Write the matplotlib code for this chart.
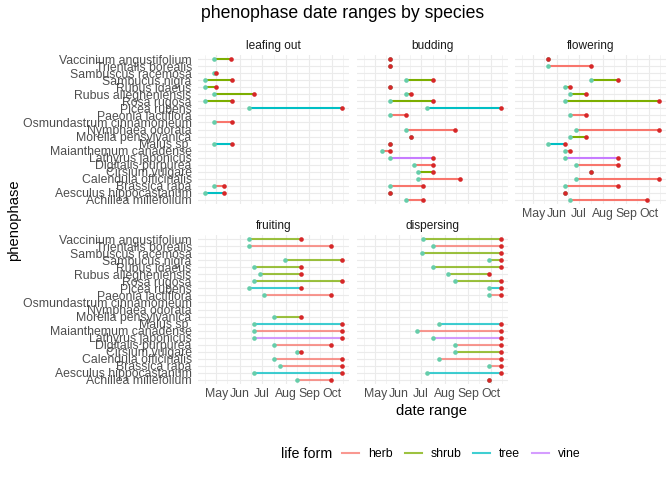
import datetime as dt
import matplotlib
matplotlib.use("Agg")
import matplotlib.pyplot as plt
import matplotlib.dates as mdates
from matplotlib.lines import Line2D

plt.rcParams['font.family'] = ['Liberation Sans', 'DejaVu Sans']

# species, top to bottom as drawn
species = ['Vaccinium angustifolium', 'Trientalis borealis', 'Sambuscus racemosa',
           'Sambucus nigra', 'Rubus idaeus', 'Rubus allegheniensis', 'Rosa rugosa',
           'Picea rubens', 'Paeonia lactiflora', 'Osmundastrum cinnamomeum',
           'Nymphaea odorata', 'Morella pensylvanica', 'Malus sp.',
           'Maianthemum canadense', 'Lathyrus japonicus', 'Digitalis purpurea',
           'Cirsium vulgare', 'Calendula officinalis', 'Brassica rapa',
           'Aesculus hippocastanum', 'Achillea millefolium']
life_form = ['shrub', 'herb', 'shrub', 'shrub', 'shrub', 'shrub', 'shrub',
             'tree', 'herb', 'herb', 'herb', 'shrub', 'tree', 'herb', 'vine',
             'herb', 'shrub', 'herb', 'herb', 'tree', 'herb']

phases = ['leafing out', 'budding', 'flowering', 'fruiting', 'dispersing']

# day of year, (start, end) per species; None = no record
leafing_out = [(118, 140), None, (118, 121), (106, 142), (106, 121), (118, 171),
               (106, 142), (164, 288), None, (118, 142), None, None, (118, 142),
               None, None, None, None, None, (118, 132), (106, 132), None]
budding = [(140, 140), (140, 140), None, (162, 198), (140, 140), (162, 169),
           (140, 198), (190, 288), (140, 162), None, (162, 227), (169, 169),
           (140, 140), (130, 140), (140, 198), (173, 198), (178, 198),
           (178, 233), (140, 184), (140, 140), (162, 184)]
flowering = [(140, 140), (140, 197), None, (197, 233), (163, 170), (170, 191),
             (163, 288), None, (170, 191), None, (178, 288), (170, 191),
             (140, 163), (163, 170), (163, 233), (178, 233), (197, 197),
             (178, 288), (163, 233), (163, 163), (170, 272)]
fruiting = [(164, 234), (164, 273), None, (212, 288), (171, 234), (179, 234),
            (171, 288), (164, 234), (185, 273), None, None, (198, 234),
            (171, 288), (171, 288), (171, 288), (198, 273), (228, 234),
            (198, 288), (206, 288), (171, 288), (228, 273)]
dispersing = [(184, 288), (198, 288), (183, 288), (272, 288), (198, 288),
              (218, 272), (227, 288), (272, 288), (272, 288), None, None, None,
              (205, 288), (177, 288), (198, 288), (227, 288), (227, 288),
              (205, 288), (272, 288), (190, 288), (272, 272)]
ranges = [leafing_out, budding, flowering, fruiting, dispersing]

lf_names = ['herb', 'shrub', 'tree', 'vine']
lf_colors = {'herb': '#F8766D', 'shrub': '#7CAE00', 'tree': '#00BFC4', 'vine': '#C77CFF'}
line_alpha = [1.0, 1.0, 1.0, 0.75, 0.75]
start_col = '#66CDAA'
end_col = '#D62728'


def to_date(d):
    return dt.date(2023, 1, 1) + dt.timedelta(days=d - 1)


all_days = [d for r in ranges for v in r if v for d in v]
lo, hi = min(all_days), max(all_days)
pad = (hi - lo) * 0.05
xlim = (mdates.date2num(to_date(lo)) - pad, mdates.date2num(to_date(hi)) + pad)

W, H = 672, 480
fig = plt.figure(figsize=(W / 100, H / 100), dpi=100)
lefts = [198, 357, 515, 198, 357]
tops = [55, 55, 55, 235, 235]
pw, ph = 151, 149

n = len(species)
grey = '#4D4D4D'
for k, phase in enumerate(phases):
    ax = fig.add_axes([lefts[k] / W, 1 - (tops[k] + ph) / H, pw / W, ph / H])
    for s in ax.spines.values():
        s.set_visible(False)
    ax.set_xlim(*xlim)
    ax.set_ylim(-0.6, n - 0.4)
    ax.xaxis.set_major_locator(mdates.MonthLocator(bymonth=range(5, 11)))
    ax.xaxis.set_minor_locator(mdates.MonthLocator(bymonthday=16))
    ax.xaxis.set_major_formatter(mdates.DateFormatter('%b'))
    ax.set_yticks(range(n))
    ax.set_yticklabels(species[::-1])
    ax.grid(which='major', color='#EBEBEB', lw=0.8)
    ax.grid(which='minor', axis='x', color='#EBEBEB', lw=0.4)
    ax.set_axisbelow(True)
    ax.tick_params(which='both', length=0, labelsize=8.8, colors=grey)
    ax.tick_params(axis='y', pad=4.5)
    ax.tick_params(axis='x', pad=3)
    if k not in (0, 3):
        ax.set_yticklabels([])
    if k in (0, 1):
        ax.set_xticklabels([])
    ax.set_title(phase, fontsize=8.6, color='#1A1A1A', pad=4)

    for i, v in enumerate(ranges[k]):
        if v is None:
            continue
        y = n - 1 - i
        a, b = to_date(v[0]), to_date(v[1])
        ax.plot([a, b], [y, y], color=lf_colors[life_form[i]], lw=1.5,
                alpha=line_alpha[k], solid_capstyle='butt', zorder=2)
        ax.scatter([a], [y], s=11, color=start_col, zorder=3, linewidths=0)
        ax.scatter([b], [y], s=11, color=end_col, zorder=4, linewidths=0)

fig.text(342.5 / W, 1 - 14 / H, 'phenophase date ranges by species',
         ha='center', va='center', fontsize=12.7)
fig.text(431.5 / W, 1 - 411 / H, 'date range', ha='center', va='center', fontsize=10.6)
fig.text(14 / W, 1 - 220 / H, 'phenophase', ha='center', va='center',
         rotation=90, fontsize=10.6)

fig.text(281 / W, 1 - 454 / H, 'life form', ha='left', va='center', fontsize=10.3)
handles = [Line2D([], [], color=lf_colors[f], lw=1.5, alpha=0.75) for f in lf_names]
fig.legend(handles, lf_names, loc='center left', bbox_to_anchor=(342 / W, 1 - 454 / H),
           ncol=4, frameon=False, fontsize=8.8, handlelength=1.4,
           handletextpad=0.7, columnspacing=1.0, borderaxespad=0, borderpad=0)

fig.savefig('out.png', dpi=100)
